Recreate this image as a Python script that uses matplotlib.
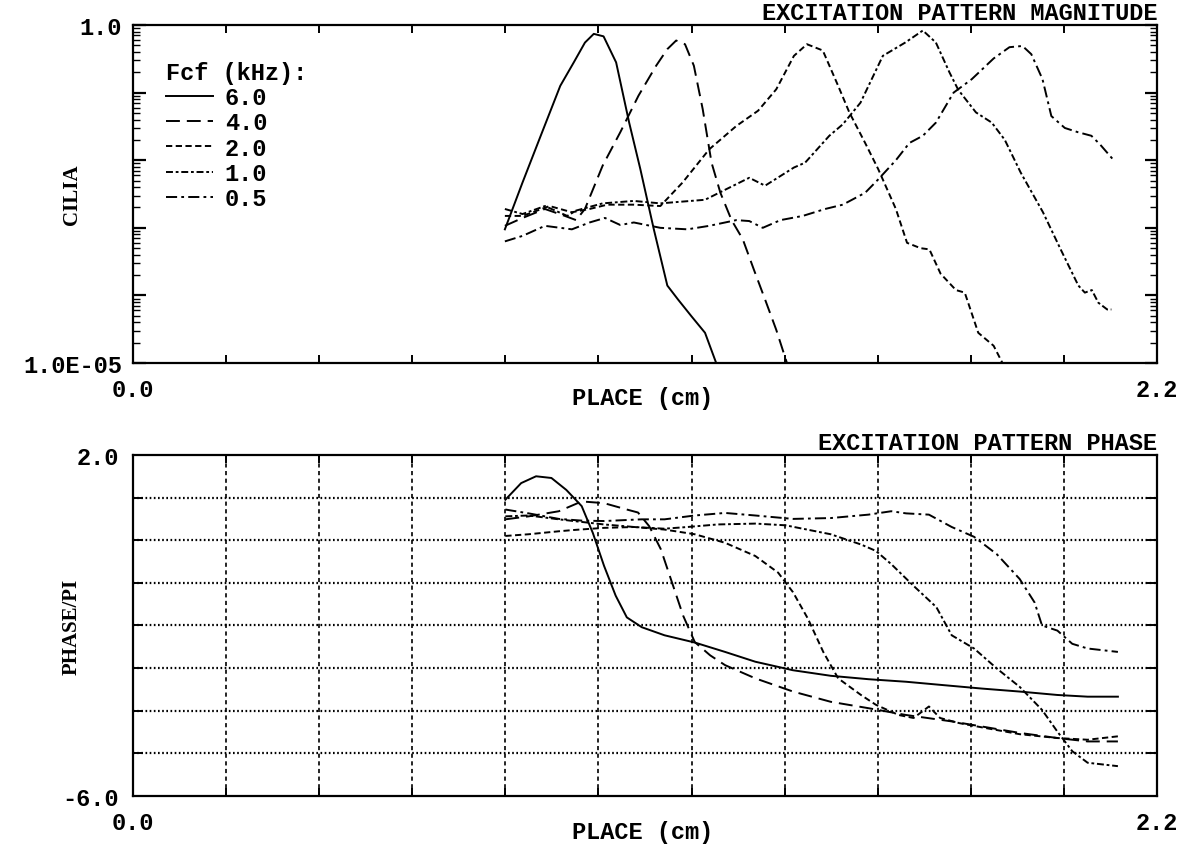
import numpy as np
import matplotlib
matplotlib.use("Agg")
import matplotlib.pyplot as plt
from matplotlib.ticker import LogLocator, FixedLocator, FuncFormatter, NullFormatter, FixedFormatter

plt.rcParams['lines.scale_dashes'] = False
plt.rcParams['font.family'] = ['Liberation Mono', 'DejaVu Sans Mono']

# ---------------- data ----------------
freqs = ["6.0", "4.0", "2.0", "1.0", "0.5"]

# magnitude (CILIA), place in cm
mag_x_60 = [0.799, 0.837, 0.876, 0.918, 0.947, 0.971, 0.990, 1.011, 1.038, 1.066, 1.090, 1.119,
            1.148, 1.171, 1.200, 1.229, 1.253]
mag_y_60 = [9.5e-4, 4.7e-3, 2.3e-2, 0.126, 0.28, 0.55, 0.74, 0.68, 0.28, 0.036, 7.4e-3, 9.5e-4,
            1.4e-4, 8.7e-5, 4.9e-5, 2.8e-5, 1.0e-5]

mag_x_40 = [0.799, 0.837, 0.885, 0.928, 0.952, 0.971, 1.009, 1.047, 1.086, 1.124, 1.148, 1.167,
            1.186, 1.205, 1.224, 1.243, 1.262, 1.286, 1.310, 1.334, 1.358, 1.382, 1.405]
mag_y_40 = [1.07e-3, 1.4e-3, 1.9e-3, 1.5e-3, 1.3e-3, 1.9e-3, 8.3e-3, 0.026, 0.09, 0.25, 0.44, 0.59,
            0.52, 0.25, 0.057, 9.2e-3, 3.3e-3, 1.3e-3, 6.8e-4, 2.4e-4, 8.7e-5, 3.1e-5, 1.0e-5]

mag_x_20 = [0.799, 0.837, 0.895, 0.943, 0.981, 1.019, 1.076, 1.133, 1.181, 1.238, 1.296, 1.343,
            1.382, 1.420, 1.448, 1.482, 1.515, 1.539, 1.573, 1.601, 1.639, 1.663, 1.692, 1.711,
            1.735, 1.768, 1.787, 1.816, 1.849, 1.868]
mag_y_20 = [1.5e-3, 1.5e-3, 2.1e-3, 1.7e-3, 1.9e-3, 2.2e-3, 2.2e-3, 2.1e-3, 4.7e-3, 0.0145, 0.032, 0.054,
            0.112, 0.35, 0.52, 0.42, 0.126, 0.051, 0.018, 7.4e-3, 1.9e-3, 6.0e-4, 5.0e-4, 4.8e-4,
            2.1e-4, 1.2e-4, 1.1e-4, 2.8e-5, 1.8e-5, 1.0e-5]

mag_x_10 = [0.799, 0.837, 0.885, 0.933, 0.952, 1.009, 1.076, 1.133, 1.229, 1.277, 1.324, 1.358,
            1.420, 1.444, 1.496, 1.525, 1.563, 1.611, 1.659, 1.697, 1.725, 1.754, 1.773, 1.811,
            1.845, 1.873, 1.907, 1.955, 1.993, 2.031, 2.045, 2.060, 2.074, 2.093, 2.102]
mag_y_10 = [1.9e-3, 1.6e-3, 2.1e-3, 1.5e-3, 1.8e-3, 2.3e-3, 2.5e-3, 2.3e-3, 2.6e-3, 3.8e-3, 5.5e-3, 4.2e-3,
            7.8e-3, 9.2e-3, 0.023, 0.034, 0.071, 0.35, 0.55, 0.83, 0.55, 0.20, 0.11, 0.051,
            0.036, 0.020, 6.6e-3, 1.7e-3, 4.8e-4, 1.4e-4, 1.1e-4, 1.2e-4, 7.8e-5, 6.2e-5, 6.2e-5]

mag_x_05 = [0.799, 0.837, 0.885, 0.943, 0.981, 1.014, 1.047, 1.076, 1.133, 1.191, 1.238, 1.296,
            1.324, 1.353, 1.391, 1.439, 1.487, 1.525, 1.573, 1.601, 1.639, 1.668, 1.697, 1.725,
            1.763, 1.802, 1.849, 1.883, 1.911, 1.930, 1.954, 1.973, 2.002, 2.030, 2.059, 2.078, 2.107]
mag_y_05 = [6.3e-4, 7.6e-4, 1.07e-3, 9.5e-4, 1.2e-3, 1.4e-3, 1.1e-3, 1.2e-3, 1.0e-3, 9.5e-4, 1.07e-3, 1.3e-3,
            1.26e-3, 1.0e-3, 1.3e-3, 1.5e-3, 1.9e-3, 2.2e-3, 3.3e-3, 5.2e-3, 0.010, 0.018, 0.023, 0.036,
            0.10, 0.158, 0.32, 0.47, 0.49, 0.37, 0.158, 0.045, 0.030, 0.026, 0.023, 0.017, 0.010]

# phase (PHASE/PI)
ph_x_60 = [0.800, 0.834, 0.866, 0.899, 0.931, 0.964, 0.988, 1.012, 1.037, 1.061, 1.093, 1.142,
           1.207, 1.272, 1.337, 1.418, 1.499, 1.580, 1.661, 1.742, 1.824, 1.905, 1.986, 2.051, 2.116]
ph_y_60 = [0.95, 1.34, 1.50, 1.46, 1.18, 0.80, 0.17, -0.60, -1.30, -1.81, -2.04, -2.23,
           -2.40, -2.62, -2.85, -3.05, -3.18, -3.26, -3.32, -3.40, -3.48, -3.55, -3.63, -3.67, -3.67]

ph_x_40 = [0.800, 0.850, 0.915, 0.964, 1.012, 1.061, 1.085, 1.109, 1.134, 1.158, 1.182, 1.207,
           1.240, 1.272, 1.337, 1.418, 1.499, 1.580, 1.661, 1.759, 1.824, 1.905, 1.986, 2.051, 2.116]
ph_y_40 = [0.49, 0.56, 0.68, 0.91, 0.87, 0.72, 0.65, 0.33, -0.21, -0.99, -1.77, -2.39,
           -2.70, -2.93, -3.24, -3.55, -3.79, -3.94, -4.10, -4.25, -4.37, -4.52, -4.64, -4.72, -4.72]

ph_x_20 = [0.800, 0.850, 0.915, 0.947, 1.012, 1.077, 1.142, 1.207, 1.272, 1.337, 1.386, 1.418,
           1.450, 1.483, 1.515, 1.564, 1.596, 1.645, 1.677, 1.710, 1.734, 1.775, 1.824, 1.905,
           1.986, 2.051, 2.116]
ph_y_20 = [0.10, 0.14, 0.21, 0.24, 0.29, 0.31, 0.25, 0.14, -0.06, -0.37, -0.76, -1.22,
           -1.84, -2.62, -3.24, -3.63, -3.86, -4.10, -4.17, -3.90, -4.17, -4.29, -4.39, -4.55,
           -4.64, -4.68, -4.60]

ph_x_10 = [0.800, 0.850, 0.915, 0.947, 1.012, 1.077, 1.142, 1.191, 1.256, 1.337, 1.402, 1.499,
           1.564, 1.596, 1.629, 1.677, 1.726, 1.759, 1.807, 1.856, 1.905, 1.953, 1.986, 2.018,
           2.051, 2.116]
ph_y_10 = [0.56, 0.58, 0.49, 0.45, 0.37, 0.31, 0.27, 0.31, 0.37, 0.39, 0.35, 0.14,
           -0.10, -0.25, -0.56, -1.07, -1.57, -2.23, -2.54, -3.01, -3.44, -3.98, -4.49, -4.95,
           -5.22, -5.30]

ph_x_05 = [0.800, 0.850, 0.915, 0.964, 1.012, 1.093, 1.142, 1.207, 1.272, 1.337, 1.418, 1.499,
           1.580, 1.629, 1.661, 1.710, 1.759, 1.807, 1.856, 1.905, 1.937, 1.953, 1.986, 2.018,
           2.051, 2.116]
ph_y_05 = [0.72, 0.63, 0.50, 0.46, 0.45, 0.49, 0.49, 0.58, 0.64, 0.58, 0.50, 0.52,
           0.60, 0.68, 0.63, 0.60, 0.31, 0.08, -0.33, -0.91, -1.46, -2.00, -2.12, -2.43,
           -2.54, -2.62]

mag_x = [mag_x_60, mag_x_40, mag_x_20, mag_x_10, mag_x_05]
mag_y = [mag_y_60, mag_y_40, mag_y_20, mag_y_10, mag_y_05]
ph_x = [ph_x_60, ph_x_40, ph_x_20, ph_x_10, ph_x_05]
ph_y = [ph_y_60, ph_y_40, ph_y_20, ph_y_10, ph_y_05]

x_tick_labels = ["0.0", "2.2"]
mag_tick_labels = {1.0: "1.0", 1e-5: "1.0E-05"}
phase_tick_labels = ["-6.0", "2.0"]

# ---------------- styles ----------------
styles = ["-", (0, (10, 5)), (0, (4.5, 2.5)), (0, (5, 2, 2, 2)), (0, (8, 3, 2, 3))]
LW = 1.4
mono_b = dict(family=['Liberation Mono', 'DejaVu Sans Mono'], weight='bold')
serif_b = dict(family=['Liberation Serif', 'DejaVu Serif'], weight='bold', size=15)
FS = 17


def mag_fmt(v, pos):
    for k, s in mag_tick_labels.items():
        if abs(np.log10(k) - np.log10(v)) < 1e-6:
            return s
    return ""


fig = plt.figure(figsize=(11.84, 8.45), dpi=100)
ax1 = fig.add_axes([0.1123, 0.5692, 0.8649, 0.4000])
ax2 = fig.add_axes([0.1123, 0.0568, 0.8649, 0.4036])

for ax in (ax1, ax2):
    for s in ax.spines.values():
        s.set_linewidth(1.6)
    ax.set_xlim(0, 2.2)
    ax.set_xticks([0.0, 2.2])
    ax.set_xticklabels(x_tick_labels)
    ax.set_xticks(np.arange(0.2, 2.01, 0.2), minor=True)
    ax.tick_params(axis='x', which='major', length=0, pad=11, labelsize=FS)
    ax.tick_params(axis='x', which='minor', length=6, width=1.4, direction='in', top=True, bottom=True)
    for lab in ax.get_xticklabels():
        lab.set_fontproperties(dict(mono_b, size=FS))
    ax.set_xlabel("PLACE (cm)", fontdict=dict(mono_b, size=FS))
    ax.xaxis.set_label_coords(0.498, -0.103)
    ax.xaxis.label.set_va('center')

# ---- top: magnitude ----
for xs, ys, ls, lab in zip(mag_x, mag_y, styles, freqs):
    ax1.plot(xs, ys, color='black', lw=LW, linestyle=ls, label=lab)
ax1.set_yscale('log')
ax1.set_ylim(1e-5, 1.0)
ax1.yaxis.set_major_locator(LogLocator(base=10, numticks=12))
ax1.yaxis.set_minor_locator(LogLocator(base=10, subs=np.arange(2, 10), numticks=12))
ax1.yaxis.set_major_formatter(FuncFormatter(mag_fmt))
ax1.yaxis.set_minor_formatter(NullFormatter())
ax1.tick_params(axis='y', which='major', direction='in', left=True, right=True, length=9, width=1.6,
                pad=8, labelsize=FS)
ax1.tick_params(axis='y', which='minor', direction='in', left=True, right=True, length=5, width=1.0)
for lab in ax1.get_yticklabels():
    lab.set_fontproperties(dict(mono_b, size=FS))
ax1.set_ylabel("CILIA", fontdict=serif_b)
ax1.yaxis.set_label_coords(-0.0596, 0.5)
ax1.yaxis.label.set_va('center')
ax1.set_title("EXCITATION PATTERN MAGNITUDE", loc='right', pad=4,
              fontdict=dict(family=['Liberation Mono'], weight='bold', size=FS))

leg = ax1.legend(loc='upper left', bbox_to_anchor=(0.032, 0.895), frameon=False,
                 title="Fcf (kHz):", prop=dict(mono_b, size=FS),
                 title_fontproperties=dict(mono_b, size=FS),
                 handlelength=2.0, handletextpad=0.5, labelspacing=0.1,
                 borderpad=0, borderaxespad=0, alignment='left')
for h in leg.get_lines():
    h.set_linewidth(LW)

# ---- bottom: phase ----
for xs, ys, ls in zip(ph_x, ph_y, styles):
    ax2.plot(xs, ys, color='black', lw=LW, linestyle=ls)
ax2.set_ylim(-6, 2)
ax2.yaxis.set_major_locator(FixedLocator([-6, 2]))
ax2.yaxis.set_major_formatter(FixedFormatter(phase_tick_labels))
ax2.yaxis.set_minor_locator(FixedLocator(np.arange(-5, 2, 1)))
ax2.tick_params(axis='y', which='major', direction='in', length=0, pad=10, labelsize=FS)
ax2.tick_params(axis='y', which='minor', direction='in', left=True, right=True, length=7, width=1.4)
for lab in ax2.get_yticklabels():
    lab.set_fontproperties(dict(mono_b, size=FS))
ax2.yaxis.grid(True, which='minor', color='black', linestyle=(0, (1.2, 1.8)), linewidth=1.6)
ax2.xaxis.grid(True, which='minor', color='black', linestyle=(0, (3, 2.5)), linewidth=1.2)
ax2.set_axisbelow(True)
ax2.set_ylabel("PHASE/PI", fontdict=serif_b)
ax2.yaxis.set_label_coords(-0.0596, 0.5)
ax2.yaxis.label.set_va('center')
ax2.set_title("EXCITATION PATTERN PHASE", loc='right', pad=4,
              fontdict=dict(family=['Liberation Mono'], weight='bold', size=FS))

fig.savefig("out.png", dpi=100)
